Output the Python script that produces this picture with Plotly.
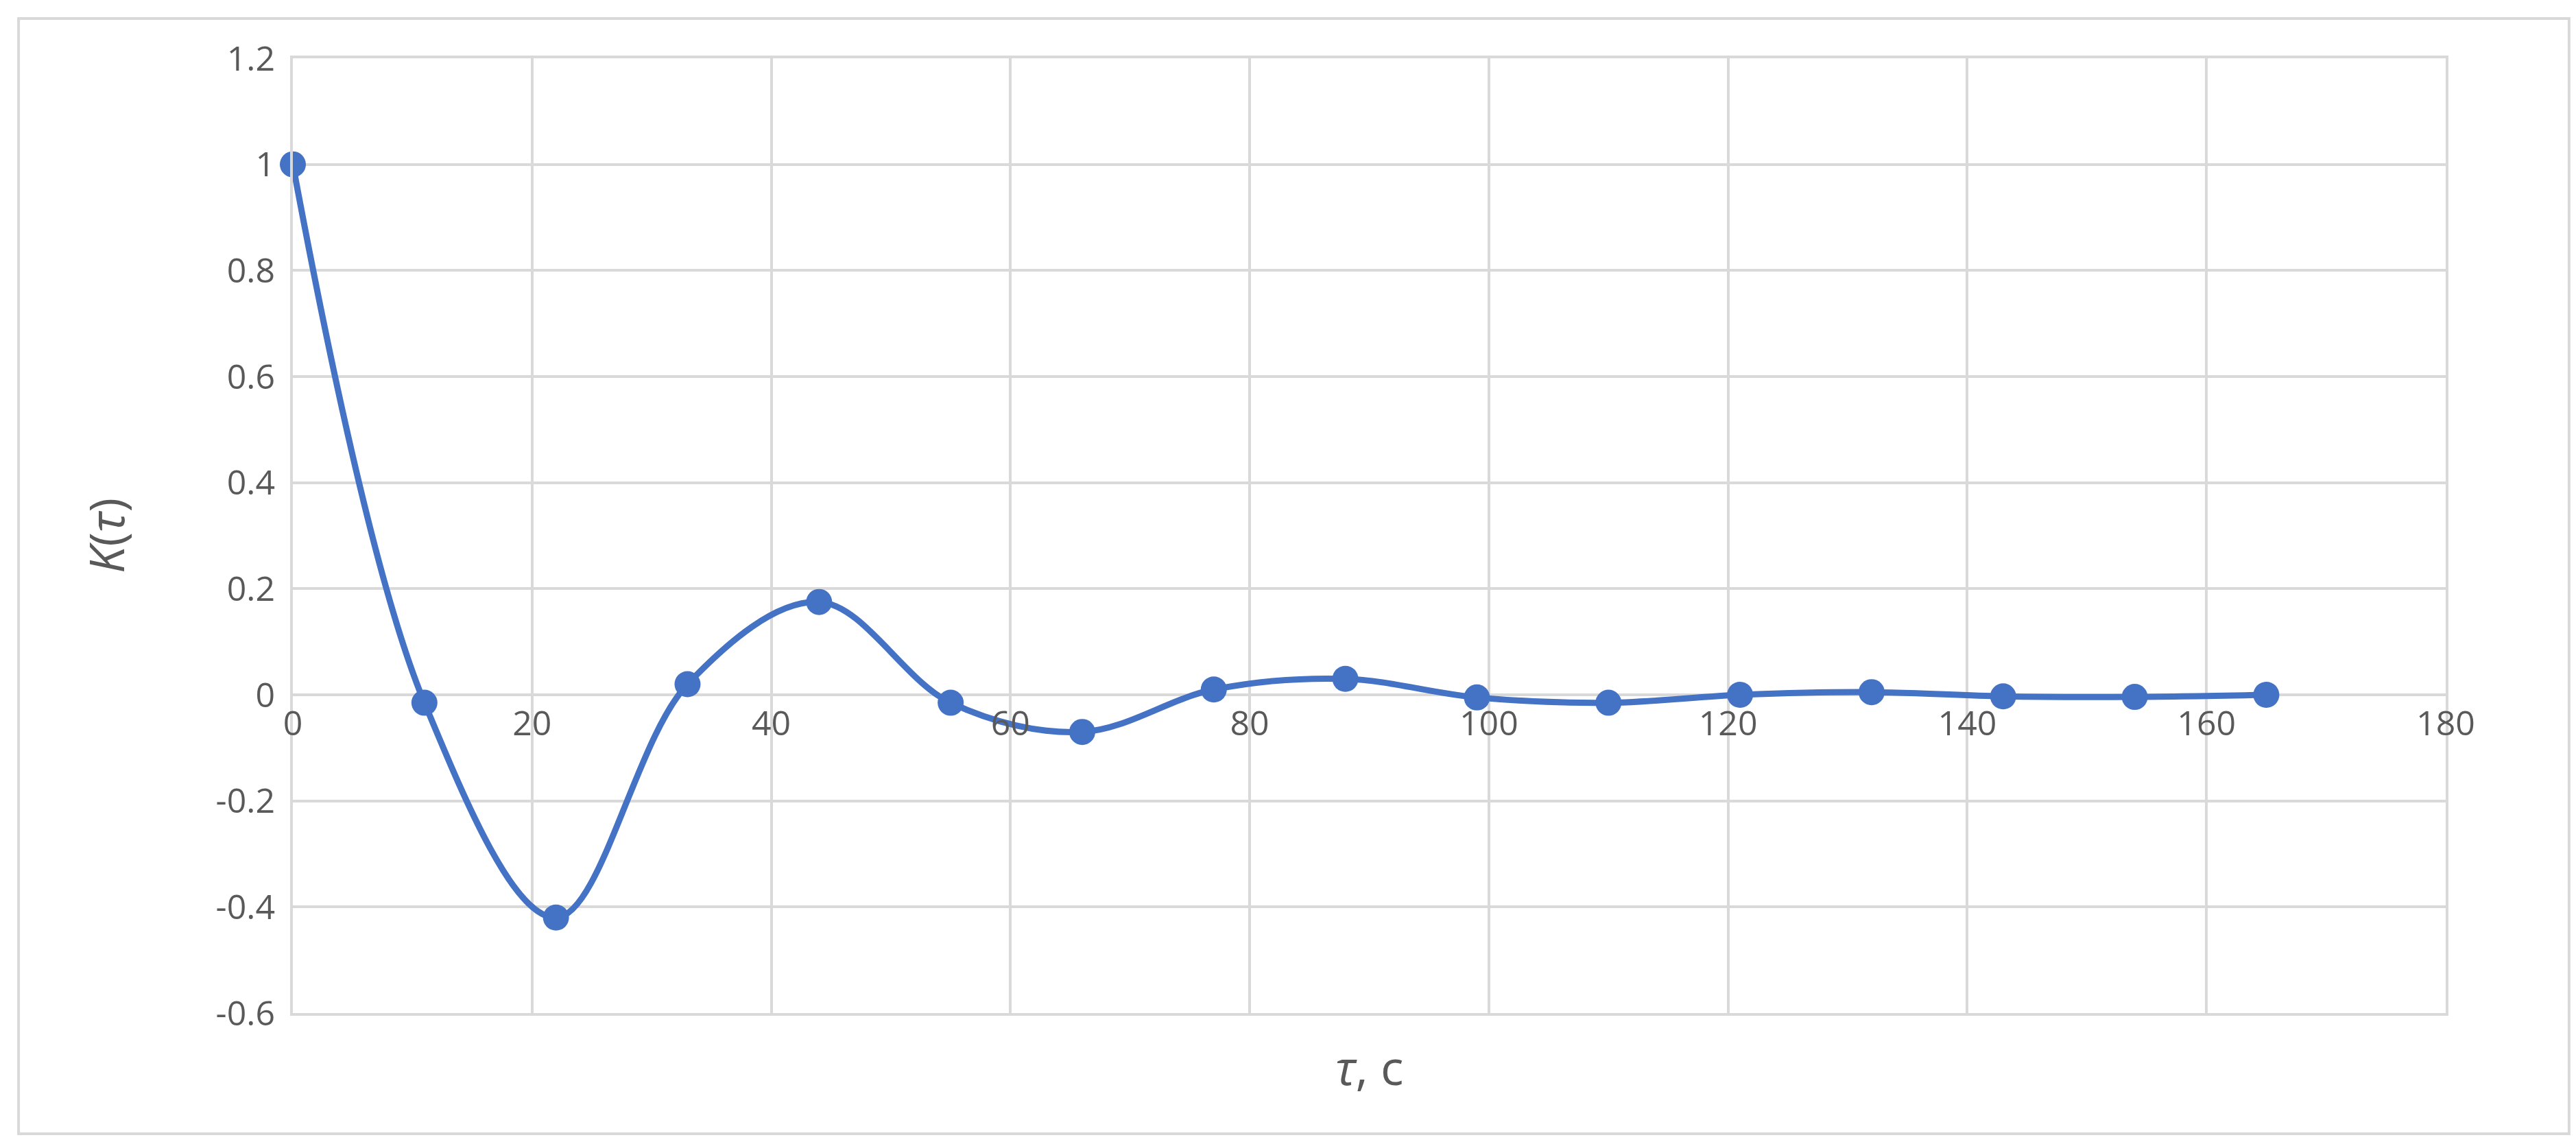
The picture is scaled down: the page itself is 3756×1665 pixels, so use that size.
import plotly.graph_objects as go

# lag values and autocorrelation
tau = [0, 11, 22, 33, 44, 55, 66, 77, 88, 99, 110, 121, 132, 143, 154, 165]
k_tau = [1.0, -0.015, -0.42, 0.02, 0.175, -0.015, -0.07, 0.01, 0.03, -0.005,
         -0.015, 0.0, 0.005, -0.003, -0.004, 0.0]
x_ticks = list(range(0, 181, 20))
y_ticks = [-0.6, -0.4, -0.2, 0, 0.2, 0.4, 0.6, 0.8, 1, 1.2]
y_tick_text = ["-0.6", "-0.4", "-0.2", "0", "0.2", "0.4", "0.6", "0.8", "1", "1.2"]

blue = "#4472C4"
grey = "#595959"
grid = "#d9d9d9"

fig = go.Figure()
fig.add_trace(go.Scatter(
    x=tau, y=k_tau, mode="lines+markers", line_shape="spline",
    line=dict(color=blue, width=9), marker=dict(color=blue, size=38),
    cliponaxis=False, showlegend=False,
))

fig.update_layout(
    width=3756, height=1665,
    margin=dict(l=419, r=198, t=77, b=196),
    plot_bgcolor="white", paper_bgcolor="white",
    font=dict(family="Open Sans", color=grey, size=50),
    xaxis=dict(range=[0, 180], tickvals=x_ticks, showgrid=True, gridcolor=grid,
               gridwidth=4, zeroline=False, showline=False, anchor="free",
               position=1 / 3, ticks="", ticklabelstandoff=8),
    # second x axis only draws the plot-area frame lines at top and bottom
    xaxis2=dict(range=[0, 180], overlaying="x", showticklabels=False, showgrid=False,
                showline=True, linecolor=grid, linewidth=4, mirror=True,
                zeroline=False, anchor="y"),
    yaxis=dict(range=[-0.6, 1.2], tickvals=y_ticks, ticktext=y_tick_text,
               showgrid=True, gridcolor=grid, gridwidth=4, zeroline=True,
               zerolinecolor=grid, zerolinewidth=4, ticks="", ticklabelstandoff=12,
               showline=True, linecolor=grid, linewidth=4, mirror=True),
)
fig.add_trace(go.Scatter(x=[None], y=[None], xaxis="x2", showlegend=False))

# axis titles
fig.add_annotation(text="<i>τ</i>, c", xref="paper", yref="paper", x=0.5, y=0,
                   yshift=-128, showarrow=False, font=dict(size=70, color=grey))
fig.add_annotation(text="<i>K</i>(<i>τ</i>)", xref="paper", yref="paper", x=0, y=0.5,
                   xshift=-323, textangle=-90, showarrow=False,
                   font=dict(size=70, color=grey))

# chart border
fig.add_shape(type="rect", xref="paper", yref="paper", x0=-0.1274, x1=1.0573,
              y0=-0.1264, y1=1.0417, line=dict(color=grid, width=4))

fig.write_html("out.html")
